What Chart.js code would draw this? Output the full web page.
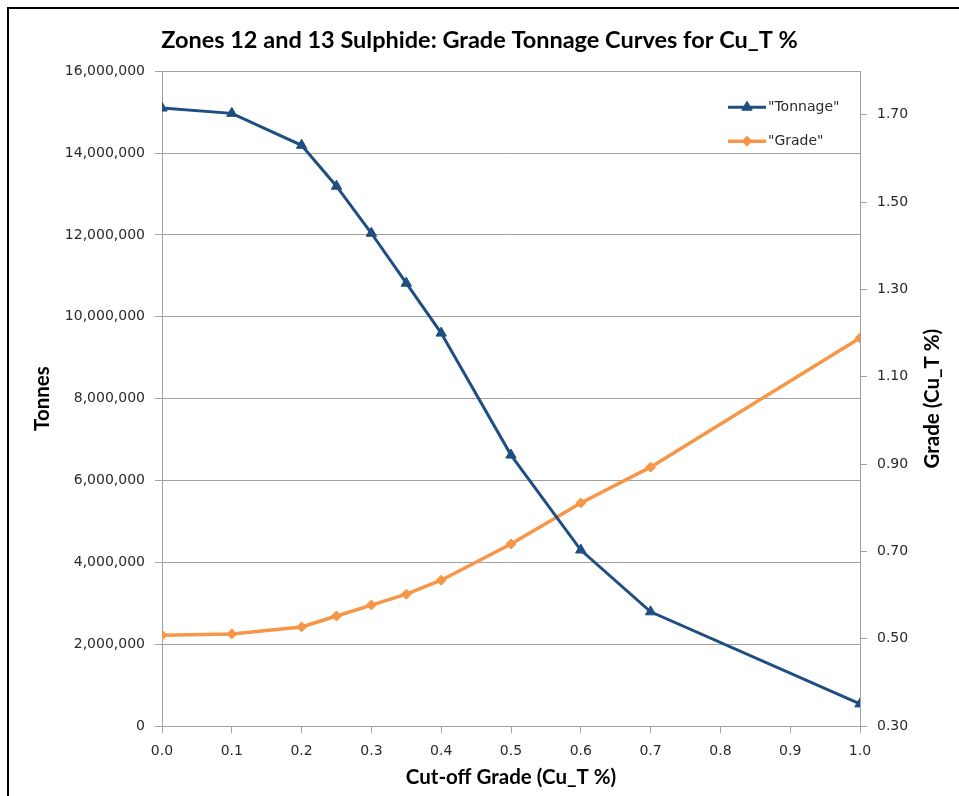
<!DOCTYPE html>
<html>
<head>
<meta charset="utf-8">
<title>Grade Tonnage Curves</title>
<script src="https://cdn.jsdelivr.net/npm/chart.js@4.4.1/dist/chart.umd.min.js"></script>
<style>
  html, body { margin: 0; padding: 0; background: #fff; }
  #wrap { position: relative; width: 959px; height: 796px; overflow: hidden; }
  #frame { position: absolute; left: 7px; top: 7px; right: -10px; bottom: -10px;
           border-left: 2px solid #000; border-top: 2px solid #000; pointer-events: none; }
</style>
</head>
<body>
<div id="wrap">
  <canvas id="gradeChart" width="959" height="796"></canvas>
  <div id="frame"></div>
</div>
<script>
// values
var cutoff = [0.0, 0.1, 0.2, 0.25, 0.3, 0.35, 0.4, 0.5, 0.6, 0.7, 1.0];
var tonnage = [15100000, 14970000, 14190000, 13190000, 12040000, 10820000, 9600000, 6620000, 4300000, 2790000, 540000];
var grade = [0.508, 0.511, 0.527, 0.552, 0.577, 0.602, 0.634, 0.717, 0.811, 0.893, 1.189];
var gradeTicks = [0.30, 0.50, 0.70, 0.90, 1.10, 1.30, 1.50, 1.70];

var tickFont = { family: 'DejaVu Sans', size: 14 };
var tickColor = '#2a2a2a';
var axisTitleFont = { family: 'Lato', size: 20.5, weight: 'bold' };
var gridColor = '#a0a0a0';

// legend drawn inside the plot, top right
var legendInside = {
  id: 'legendInside',
  afterDatasetsDraw: function (chart) {
    var ctx = chart.ctx, area = chart.chartArea;
    chart.data.datasets.forEach(function (ds, i) {
      var x = area.right - 132, y = area.top + 36 + i * 34;
      ctx.save();
      ctx.strokeStyle = ds.borderColor;
      ctx.lineWidth = ds.borderWidth;
      ctx.beginPath();
      ctx.moveTo(x, y);
      ctx.lineTo(x + 38, y);
      ctx.stroke();
      ctx.fillStyle = ds.borderColor;
      ctx.lineWidth = 1;
      var r = ds.pointRadius, cx = x + 19;
      ctx.beginPath();
      if (ds.pointStyle === 'triangle') {
        ctx.moveTo(cx, y - r);
        ctx.lineTo(cx + r * 0.866, y + r * 0.5);
        ctx.lineTo(cx - r * 0.866, y + r * 0.5);
      } else {
        ctx.moveTo(cx, y - r);
        ctx.lineTo(cx + r, y);
        ctx.lineTo(cx, y + r);
        ctx.lineTo(cx - r, y);
      }
      ctx.closePath();
      ctx.fill();
      ctx.stroke();
      ctx.fillStyle = tickColor;
      ctx.font = '14px "DejaVu Sans"';
      ctx.textBaseline = 'middle';
      ctx.fillText(ds.label, x + 40, y);
      ctx.restore();
    });
  }
};

// right axis title reads bottom to top, like the left one
var rightTitle = {
  id: 'rightTitle',
  afterDraw: function (chart) {
    var ctx = chart.ctx, area = chart.chartArea;
    ctx.save();
    ctx.translate(932, (area.top + area.bottom) / 2);
    ctx.rotate(-Math.PI / 2);
    ctx.font = 'bold 20.5px Lato';
    ctx.fillStyle = '#000';
    ctx.textAlign = 'center';
    ctx.textBaseline = 'middle';
    ctx.fillText('Grade (Cu_T %)', 0, 0);
    ctx.restore();
  }
};

var ctx = document.getElementById('gradeChart').getContext('2d');
var chart = new Chart(ctx, {
  type: 'line',
  data: {
    datasets: [{
      label: '"Tonnage"',
      data: cutoff.map(function (c, i) { return { x: c, y: tonnage[i] }; }),
      yAxisID: 'y',
      borderColor: '#1F4E80',
      backgroundColor: '#1F4E80',
      borderWidth: 3,
      pointStyle: 'triangle',
      pointRadius: 6,
      pointBorderWidth: 1,
      tension: 0
    }, {
      label: '"Grade"',
      data: cutoff.map(function (c, i) { return { x: c, y: grade[i] }; }),
      yAxisID: 'y1',
      borderColor: '#F79646',
      backgroundColor: '#F79646',
      borderWidth: 3.5,
      pointStyle: 'rectRot',
      pointRadius: 5,
      pointBorderWidth: 1,
      tension: 0
    }]
  },
  options: {
    responsive: false,
    animation: false,
    layout: { padding: 0 },
    plugins: {
      legend: { display: false },
      tooltip: { enabled: false },
      title: {
        display: true,
        text: 'Zones 12 and 13 Sulphide: Grade Tonnage Curves for Cu_T %',
        font: { family: 'Lato', size: 23.5, weight: 'bold' },
        color: '#000',
        padding: { top: 26, bottom: 17 }
      }
    },
    scales: {
      x: {
        type: 'linear',
        min: 0,
        max: 1,
        ticks: { stepSize: 0.1, padding: 10, font: tickFont, color: tickColor,
                 callback: function (v) { return v.toFixed(1); } },
        grid: { drawOnChartArea: false, tickLength: 7, color: gridColor },
        border: { color: gridColor },
        title: { display: true, text: 'Cut-off Grade (Cu_T %)', font: axisTitleFont, color: '#000',
                 padding: { top: 0, bottom: 6 } },
        afterFit: function (s) { s.height = 70; }
      },
      y: {
        position: 'left',
        min: 0,
        max: 16000000,
        ticks: { stepSize: 2000000, padding: 10, font: tickFont, color: tickColor,
                 callback: function (v) { return v.toLocaleString('en-US'); } },
        grid: { tickLength: 7, color: gridColor },
        border: { color: gridColor },
        title: { display: true, text: 'Tonnes', font: axisTitleFont, color: '#000',
                 padding: { top: 30, bottom: 0 } },
        afterFit: function (s) { s.width = 162; }
      },
      y1: {
        position: 'right',
        min: 0.3,
        max: 1.8,
        afterBuildTicks: function (s) {
          s.ticks = gradeTicks.map(function (v) { return { value: v }; });
        },
        ticks: { padding: 10, font: tickFont, color: tickColor,
                 callback: function (v) { return v.toFixed(2); } },
        grid: { drawOnChartArea: false, tickLength: 7, color: gridColor },
        border: { color: gridColor },
        afterFit: function (s) { s.width = 99; }
      }
    }
  },
  plugins: [legendInside, rightTitle]
});
</script>
</body>
</html>
